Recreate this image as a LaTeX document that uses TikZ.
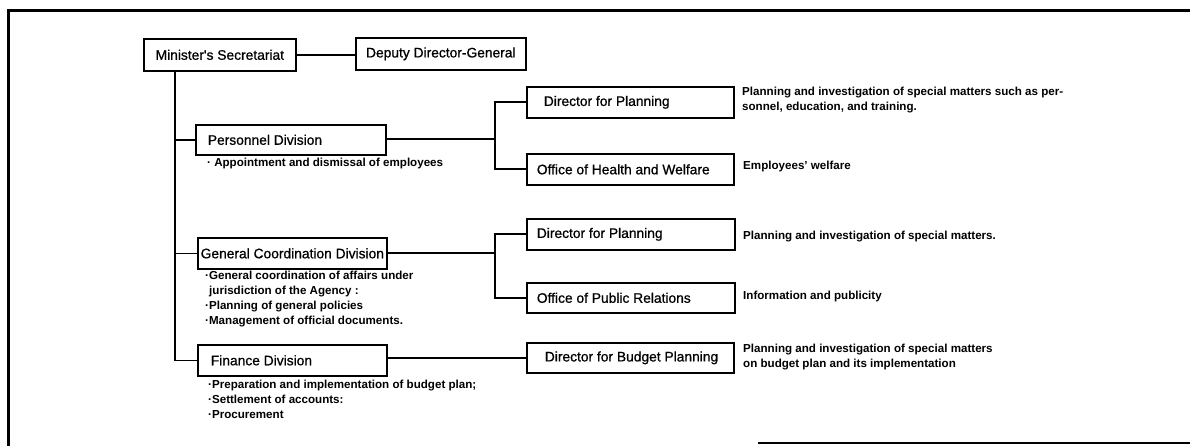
\documentclass[tikz,border=0pt]{standalone}
\usepackage{fontspec}
\setmainfont{Liberation Sans}
\newfontfamily\boxfont[FakeBold=0.8]{Liberation Sans}
\newcommand\boxtxt[3]{\makebox[#1pt][#2]{#3}}
\begin{document}
\begin{tikzpicture}[x=1pt,y=-1pt,
  box/.style={draw, line width=1.7pt, anchor=north west, minimum height=31pt,
    inner ysep=0pt, font=\boxfont\fontsize{13.8}{16}\selectfont},
  conn/.style={line width=1.7pt},
  frame/.style={line width=3pt},
  desc/.style={anchor=west, align=left, inner sep=0pt,
    font=\bfseries\fontsize{11.6}{15}\selectfont}]
\useasboundingbox (0,0) rectangle (1190,446);
% frame
\draw[frame] (8,446) -- (8,11) -- (1190,11);
\draw[line width=2.5pt] (758,443) -- (1190,443);
% boxes
\node[box, inner xsep=6pt, minimum height=32pt] (ms) at (143,38) {\boxtxt{140}{c}{Minister's Secretariat}};
\node[box, inner xsep=5pt, minimum height=32pt] (ddg) at (355,37) {\boxtxt{160}{c}{Deputy Director-General}};
\node[box, inner xsep=12pt, minimum height=30pt] (pd) at (195,124) {\boxtxt{166}{l}{Personnel Division}};
\node[box, inner xsep=2pt] (gcd) at (197,237) {\boxtxt{185}{c}{General Coordination Division}};
\node[box, inner xsep=13pt] (fd) at (197,344) {\boxtxt{163}{l}{Finance Division}};
\node[box, inner xsep=17pt] (dfp1) at (526,86) {\boxtxt{173}{l}{Director for Planning}};
\node[box, inner xsep=10pt] (ohw) at (526,153) {\boxtxt{187}{l}{Office of Health and Welfare}};
\node[box, inner xsep=10pt] (dfp2) at (526,218) {\boxtxt{188}{l}{Director for Planning}};
\node[box, inner xsep=10pt, minimum height=30pt] (opr) at (526,282) {\boxtxt{188}{l}{Office of Public Relations}};
\node[box, inner xsep=18pt, minimum height=30pt] (dbp) at (526,342) {\boxtxt{171}{l}{Director for Budget Planning}};
% connectors
\coordinate (t0) at (175,70);
\coordinate (j1) at (495,139);
\coordinate (j2) at (495,253);
\draw[conn] (ms.east) -- (ms.east -| ddg.west);
\draw[conn] (t0) |- (fd.west);
\draw[conn] (t0 |- pd.west) -- (pd.west);
\draw[conn] (t0 |- gcd.west) -- (gcd.west);
\draw[conn] (pd.east |- j1) -- (j1);
\draw[conn] (dfp1.west) -| (j1) |- (ohw.west);
\draw[conn] (gcd.east |- j2) -- (j2);
\draw[conn] (dfp2.west) -| (j2) |- (opr.west);
\draw[conn] (fd.east |- dbp.west) -- (dbp.west);
% descriptions
\node[desc] (d1) at (742,100) {Planning and investigation of special matters such as per-\\sonnel, education, and training.};
\node[desc] (d2) at (743,167) {Employees' welfare};
\node[desc] (d3) at (743,237) {Planning and investigation of special matters.};
\node[desc] (d4) at (743,297) {Information and publicity};
\node[desc] (d5) at (743,357) {Planning and investigation of special matters\\on budget plan and its implementation};
\node[desc] (pdesc) at (207,164) {· Appointment and dismissal of employees};
\node[desc, anchor=north west] (gdesc) at (205,271) {·General coordination of affairs under\\\hspace*{4pt}jurisdiction of the Agency :\\·Planning of general policies\\·Management of official documents.};
\node[desc, anchor=north west] (fdesc) at (208,380) {·Preparation and implementation of budget plan;\\·Settlement of accounts:\\·Procurement};
\end{tikzpicture}
\end{document}
